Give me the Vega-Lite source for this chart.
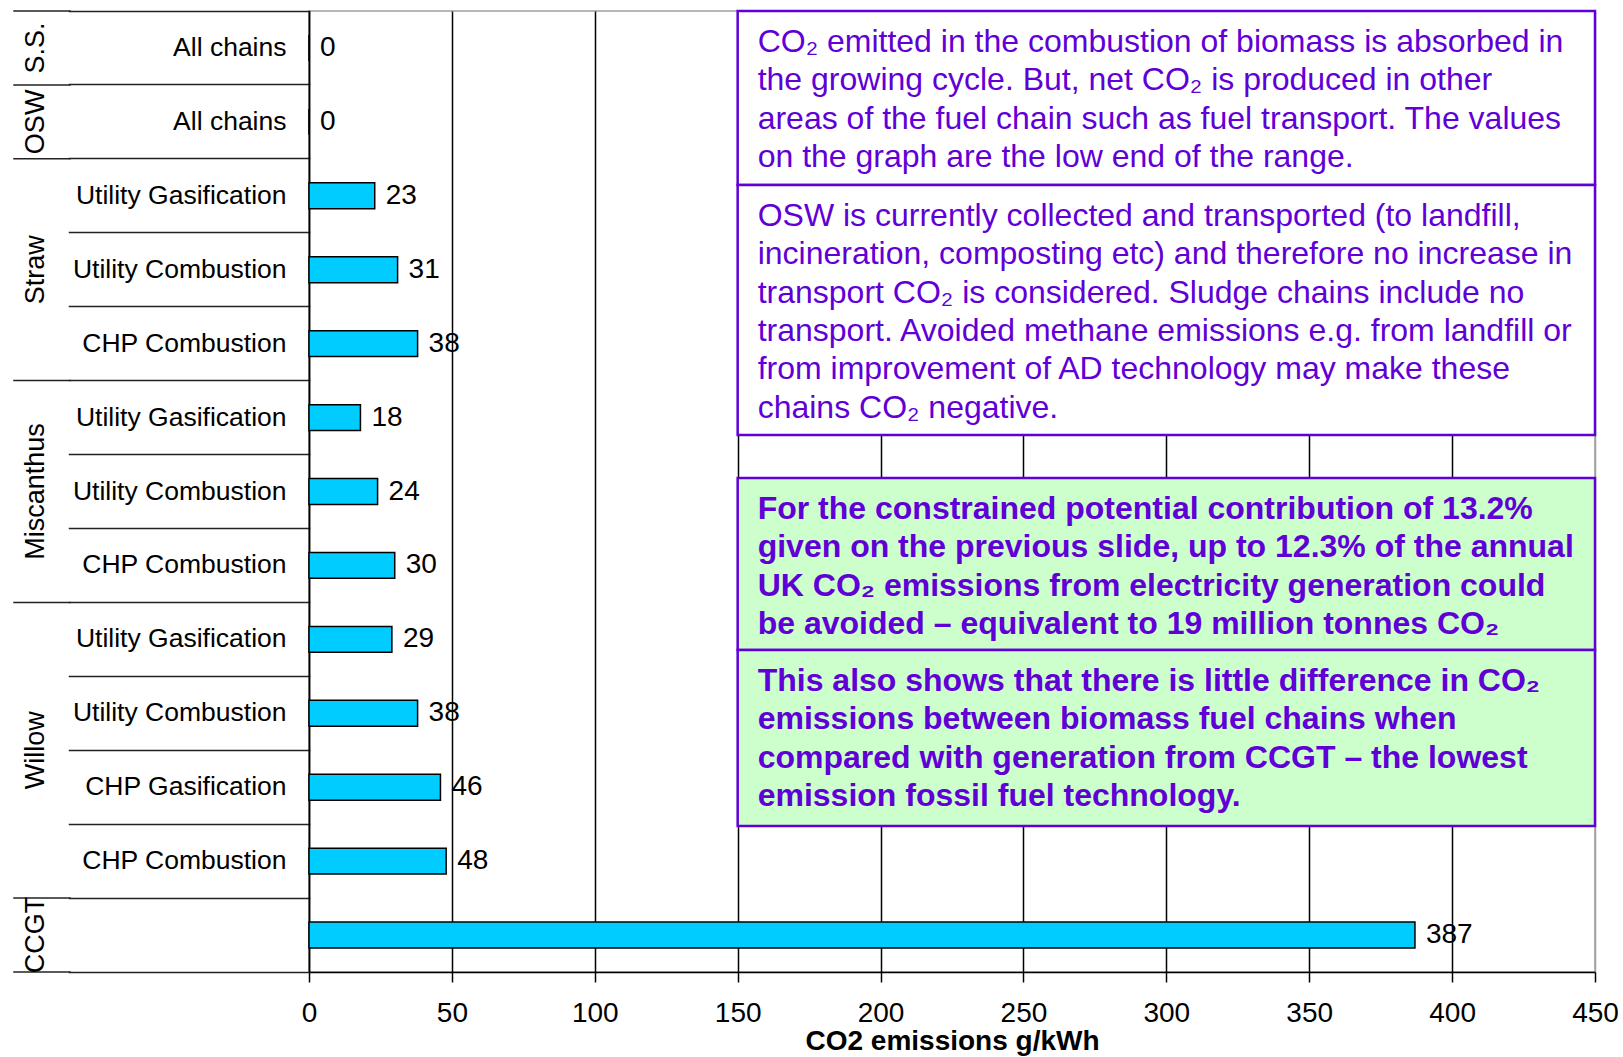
{
  "$schema": "https://vega.github.io/schema/vega-lite/v6.json",
  "padding": {"left": 12, "top": -3, "right": 0, "bottom": 0},
  "background": "white",
  "spacing": -5,
  "config": {"font": "Liberation Sans", "view": {"stroke": null}},
  "datasets": {
    "rows": [
      {"group": "S.S.", "tech": "All chains", "id": "S.S.|All chains", "value": 0},
      {"group": "OSW", "tech": "All chains", "id": "OSW|All chains", "value": 0},
      {"group": "Straw", "tech": "Utility Gasification", "id": "Straw|Utility Gasification", "value": 23},
      {"group": "Straw", "tech": "Utility Combustion", "id": "Straw|Utility Combustion", "value": 31},
      {"group": "Straw", "tech": "CHP Combustion", "id": "Straw|CHP Combustion", "value": 38},
      {"group": "Miscanthus", "tech": "Utility Gasification", "id": "Miscanthus|Utility Gasification", "value": 18},
      {"group": "Miscanthus", "tech": "Utility Combustion", "id": "Miscanthus|Utility Combustion", "value": 24},
      {"group": "Miscanthus", "tech": "CHP Combustion", "id": "Miscanthus|CHP Combustion", "value": 30},
      {"group": "Willow", "tech": "Utility Gasification", "id": "Willow|Utility Gasification", "value": 29},
      {"group": "Willow", "tech": "Utility Combustion", "id": "Willow|Utility Combustion", "value": 38},
      {"group": "Willow", "tech": "CHP Gasification", "id": "Willow|CHP Gasification", "value": 46},
      {"group": "Willow", "tech": "CHP Combustion", "id": "Willow|CHP Combustion", "value": 48},
      {"group": "CCGT", "tech": "", "id": "CCGT|", "value": 387}
    ],
    "groups": [
      {"group": "S.S.", "first": "S.S.|All chains", "last": "S.S.|All chains", "anchor": "S.S.|All chains"},
      {"group": "OSW", "first": "OSW|All chains", "last": "OSW|All chains", "anchor": "OSW|All chains"},
      {"group": "Straw", "first": "Straw|Utility Gasification", "last": "Straw|CHP Combustion", "anchor": "Straw|Utility Combustion"},
      {"group": "Miscanthus", "first": "Miscanthus|Utility Gasification", "last": "Miscanthus|CHP Combustion", "anchor": "Miscanthus|Utility Combustion"},
      {"group": "Willow", "first": "Willow|Utility Gasification", "last": "Willow|CHP Combustion", "anchor": "Willow|CHP Gasification"},
      {"group": "CCGT", "first": "CCGT|", "last": "CCGT|", "anchor": "CCGT|"}
    ],
    "notes": [
      {"kind": "note", "x0": 150, "x1": 450, "y0": 0, "y1": 2.354, "text": "CO₂ emitted in the combustion of biomass is absorbed in\nthe growing cycle.  But, net CO₂ is produced in other\nareas of the fuel chain such as fuel transport. The values\non the graph are the low end of the range."},
      {"kind": "note", "x0": 150, "x1": 450, "y0": 2.354, "y1": 5.736, "text": "OSW is currently collected and transported (to landfill,\nincineration, composting etc) and therefore no increase in\ntransport CO₂ is considered. Sludge chains include no\ntransport. Avoided methane emissions e.g. from landfill or\nfrom improvement of AD technology may make these\nchains CO₂ negative."},
      {"kind": "conclusion", "x0": 150, "x1": 450, "y0": 6.318, "y1": 8.644, "text": "For the constrained potential contribution of 13.2%\ngiven on the previous slide, up to 12.3% of the annual\nUK CO₂ emissions from electricity generation could\nbe avoided – equivalent to 19 million tonnes CO₂"},
      {"kind": "conclusion", "x0": 150, "x1": 450, "y0": 8.644, "y1": 11.025, "text": "This also shows that there is little difference in CO₂\nemissions between biomass fuel chains when\ncompared with generation from CCGT – the lowest\nemission fossil fuel technology."}
    ]
  },
  "hconcat": [
    {
      "width": 56,
      "height": 961,
      "data": {"name": "groups"},
      "layer": [
        {
          "mark": {"type": "rule", "color": "#222222", "strokeWidth": 1.5, "strokeCap": "square"},
          "encoding": {
            "y": {"field": "first", "type": "nominal", "bandPosition": 0, "axis": null,
                  "scale": {"domain": ["S.S.|All chains", "OSW|All chains", "Straw|Utility Gasification", "Straw|Utility Combustion", "Straw|CHP Combustion", "Miscanthus|Utility Gasification", "Miscanthus|Utility Combustion", "Miscanthus|CHP Combustion", "Willow|Utility Gasification", "Willow|Utility Combustion", "Willow|CHP Gasification", "Willow|CHP Combustion", "CCGT|"], "paddingInner": 0, "paddingOuter": 0}}
          }
        },
        {
          "transform": [{"filter": "datum.group === 'CCGT'"}],
          "mark": {"type": "rule", "color": "#222222", "strokeWidth": 1.5, "strokeCap": "square"},
          "encoding": {
            "y": {"field": "last", "type": "nominal", "bandPosition": 1, "axis": null}
          }
        },
        {
          "transform": [{"filter": "datum.group !== 'Willow'"}],
          "mark": {"type": "text", "angle": 270, "fontSize": 27, "align": "center", "baseline": "middle", "dy": -6.5, "color": "#000000"},
          "encoding": {
            "y": {"field": "anchor", "type": "nominal", "axis": null},
            "text": {"field": "group"}
          }
        },
        {
          "transform": [{"filter": "datum.group === 'Willow'"}],
          "mark": {"type": "text", "angle": 270, "fontSize": 27, "align": "center", "baseline": "middle", "dy": -6.5, "color": "#000000"},
          "encoding": {
            "y": {"field": "anchor", "type": "nominal", "bandPosition": 0, "axis": null},
            "text": {"field": "group"}
          }
        }
      ]
    },
    {
      "width": 1286,
      "height": 961,
      "view": {"stroke": "#a0a0a0", "strokeWidth": 1.5},
      "resolve": {"scale": {"y": "independent"}, "axis": {"y": "independent"}},
      "layer": [
        {
          "data": {"name": "rows"},
          "mark": {"type": "bar", "fill": "#00CCFF", "stroke": "#000000", "strokeWidth": 1.5, "height": {"band": 0.35}},
          "encoding": {
            "x": {"field": "value", "type": "quantitative",
                  "scale": {"domain": [0, 450], "nice": false, "zero": true},
                  "axis": {"values": [0, 50, 100, 150, 200, 250, 300, 350, 400, 450],
                           "title": "CO2 emissions g/kWh", "titleFontSize": 28, "titleFontWeight": "bold", "titleColor": "#000000", "titlePadding": 0,
                           "labelFontSize": 28, "labelColor": "#000000", "labelPadding": 17, "labelFlush": false, "labelOverlap": false,
                           "tickSize": 10, "tickColor": "#000000", "tickWidth": 1.5,
                           "domainColor": "#000000", "domainWidth": 1.5,
                           "grid": true, "gridWidth": 1.5, "gridOpacity": 1,
                           "gridColor": {"condition": {"test": "datum.value === 450", "value": "#a0a0a0"}, "value": "#000000"}}},
            "y": {"field": "id", "type": "nominal", "sort": null,
                  "scale": {"domain": ["S.S.|All chains", "OSW|All chains", "Straw|Utility Gasification", "Straw|Utility Combustion", "Straw|CHP Combustion", "Miscanthus|Utility Gasification", "Miscanthus|Utility Combustion", "Miscanthus|CHP Combustion", "Willow|Utility Gasification", "Willow|Utility Combustion", "Willow|CHP Gasification", "Willow|CHP Combustion", "CCGT|"], "paddingInner": 0, "paddingOuter": 0},
                  "axis": {"orient": "left", "title": null, "labelExpr": "split(datum.value, '|')[1]", "labelFontSize": 26.5, "labelColor": "#000000",
                           "labelPadding": -217, "labelAlign": "right", "labelBaseline": "middle", "labelLimit": 400,
                           "tickSize": 240, "tickColor": "#222222", "tickWidth": 1.5, "tickCap": "square", "bandPosition": 1, "tickExtra": true,
                           "domainColor": "#000000", "domainWidth": 1.5, "minExtent": 240, "maxExtent": 240}}
          }
        },
        {
          "data": {"name": "rows"},
          "mark": {"type": "text", "align": "left", "baseline": "middle", "dx": 11, "fontSize": 28, "color": "#000000"},
          "encoding": {
            "x": {"field": "value", "type": "quantitative"},
            "y": {"field": "id", "type": "nominal", "sort": null, "axis": null,
                  "scale": {"domain": ["S.S.|All chains", "OSW|All chains", "Straw|Utility Gasification", "Straw|Utility Combustion", "Straw|CHP Combustion", "Miscanthus|Utility Gasification", "Miscanthus|Utility Combustion", "Miscanthus|CHP Combustion", "Willow|Utility Gasification", "Willow|Utility Combustion", "Willow|CHP Gasification", "Willow|CHP Combustion", "CCGT|"], "paddingInner": 0, "paddingOuter": 0}},
            "text": {"field": "value", "type": "quantitative"}
          }
        },
        {
          "data": {"name": "notes"},
          "mark": {"type": "rect", "stroke": "#6000D6", "strokeWidth": 2.5},
          "encoding": {
            "x": {"field": "x0", "type": "quantitative"},
            "x2": {"field": "x1"},
            "y": {"field": "y0", "type": "quantitative", "axis": null, "scale": {"domain": [0, 13], "reverse": true, "nice": false, "zero": false}},
            "y2": {"field": "y1"},
            "fill": {"field": "kind", "type": "nominal", "legend": null, "scale": {"domain": ["note", "conclusion"], "range": ["#FFFFFF", "#CCFFCC"]}}
          }
        },
        {
          "data": {"name": "notes"},
          "transform": [{"filter": "datum.kind === 'note'"}],
          "mark": {"type": "text", "align": "left", "baseline": "top", "dx": 20, "dy": 16, "fontSize": 32, "lineHeight": 38.3, "lineBreak": "\n", "color": "#6000D6"},
          "encoding": {
            "x": {"field": "x0", "type": "quantitative"},
            "y": {"field": "y0", "type": "quantitative", "axis": null, "scale": {"domain": [0, 13], "reverse": true, "nice": false, "zero": false}},
            "text": {"field": "text"}
          }
        },
        {
          "data": {"name": "notes"},
          "transform": [{"filter": "datum.kind === 'conclusion'"}],
          "mark": {"type": "text", "align": "left", "baseline": "top", "dx": 20, "dy": 16, "fontSize": 32, "fontWeight": "bold", "lineHeight": 38.3, "lineBreak": "\n", "color": "#6000D6"},
          "encoding": {
            "x": {"field": "x0", "type": "quantitative"},
            "y": {"field": "y0", "type": "quantitative", "axis": null, "scale": {"domain": [0, 13], "reverse": true, "nice": false, "zero": false}},
            "text": {"field": "text"}
          }
        }
      ]
    }
  ]
}
